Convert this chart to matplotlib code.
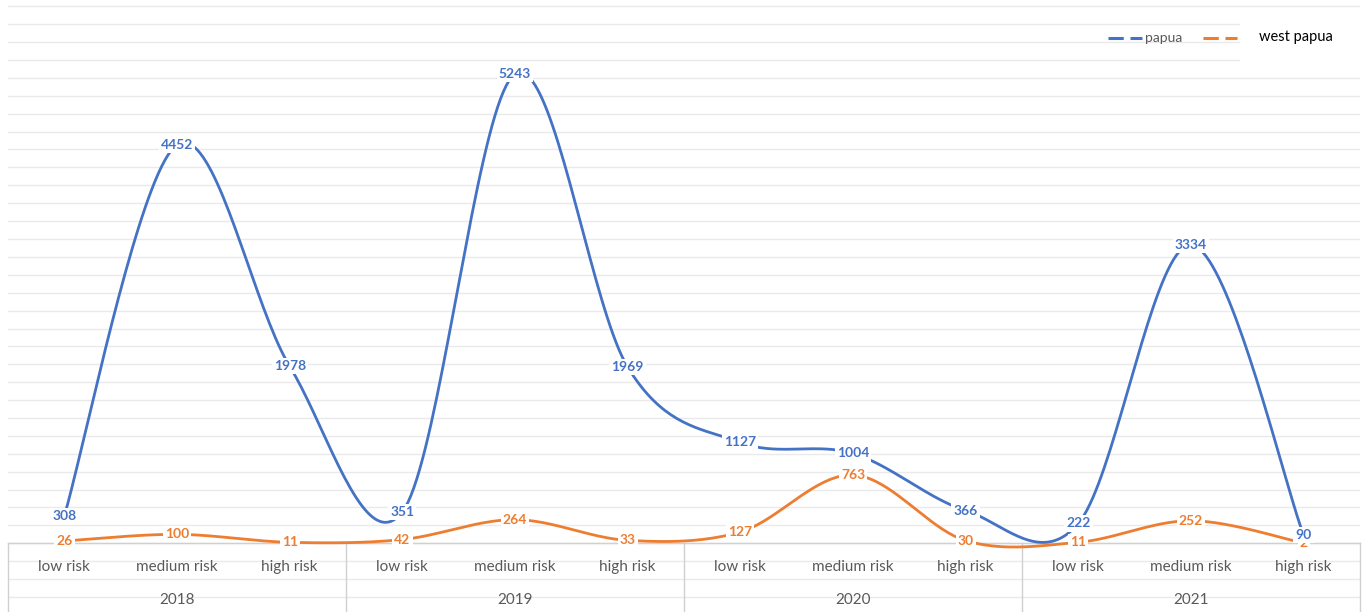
import numpy as np
import matplotlib
matplotlib.use("Agg")
import matplotlib.pyplot as plt
from matplotlib.lines import Line2D

years = ["2018", "2019", "2020", "2021"]
risks = ["low risk", "medium risk", "high risk"]
papua = [308, 4452, 1978, 351, 5243, 1969, 1127, 1004, 366, 222, 3334, 90]
west_papua = [26, 100, 11, 42, 264, 33, 127, 763, 30, 11, 252, 2]

BLUE = "#4472C4"
ORANGE = "#ED7D31"
W, H = 1366, 612

plt.rcParams['font.family'] = ['Lato', 'DejaVu Sans']

fig = plt.figure(figsize=(W / 100, H / 100), dpi=100)
ax = fig.add_axes([8 / W, 0, 1352 / W, 1])
n = len(papua)
ax.set_xlim(-0.5, n - 0.5)
s = 0.0895  # px per unit
ax.set_ylim(-(H - 543.3) / s, 543.3 / s)
for sp in ax.spines.values():
    sp.set_visible(False)
ax.set_xticks([])
ax.set_yticks([])

# gridlines
for g in range(-600, 6001, 200):
    ax.axhline(g, color="#EAEAEA", lw=1.0, zorder=0)

# axis and separators
ax.plot([-0.5, n - 0.5], [0, 0], color="#D0D0D0", lw=1.0, zorder=1, clip_on=False)
for xv in np.arange(-0.5, n, 3):
    ax.plot([xv, xv], [0, ax.get_ylim()[0]], color="#D0D0D0", lw=1.0, zorder=1, clip_on=False)


def smooth(xs, ys, steps=40):
    xs = np.asarray(xs, float)
    ys = np.asarray(ys, float)
    P = np.column_stack([xs, ys])
    out = []
    m = len(P)
    for i in range(m - 1):
        p0 = P[i - 1] if i > 0 else P[i]
        p1 = P[i]
        p2 = P[i + 1]
        p3 = P[i + 2] if i + 2 < m else P[i + 1]
        c1 = p1 + (p2 - p0) / 6
        c2 = p2 - (p3 - p1) / 6
        t = np.linspace(0, 1, steps)[:, None]
        seg = (1 - t) ** 3 * p1 + 3 * (1 - t) ** 2 * t * c1 + 3 * (1 - t) * t ** 2 * c2 + t ** 3 * p2
        out.append(seg if i == 0 else seg[1:])
    out = np.vstack(out)
    return out[:, 0], out[:, 1]


xs = np.arange(n)
for vals, col in [(papua, BLUE), (west_papua, ORANGE)]:
    sx, sy = smooth(xs, vals)
    ax.plot(sx, sy, color=col, lw=2.0, zorder=2, clip_on=False, solid_capstyle="round")

for vals, col, z in [(west_papua, ORANGE, 4), (papua, BLUE, 5)]:
    for x, v in zip(xs, vals):
        ax.text(x, v, str(v), color=col, fontsize=10, fontweight="bold", ha="center", va="center",
                zorder=z, bbox=dict(boxstyle="square,pad=0.15", fc="white", ec="none"))

# category labels
ylab = -(567 - 543.3) / s
yyear = -(600 - 543.3) / s
for i in range(n):
    ax.text(i, ylab, risks[i % 3], ha="center", va="center", fontsize=11, color="#595959")
for j, yr in enumerate(years):
    ax.text(3 * j + 1, yyear, yr, ha="center", va="center", fontsize=11, color="#595959")

# legend
def fx(px):
    return px / W


def fy(py):
    return 1 - py / H


fig.patches.append(plt.Rectangle((fx(1240), fy(68)), fx(126), 56 / H, transform=fig.transFigure,
                                 fc="white", ec="none", zorder=3))
fig.lines.append(Line2D([fx(1108), fx(1142)], [fy(38), fy(38)], transform=fig.transFigure,
                        color=BLUE, lw=2.2, dashes=(5, 2.2), zorder=4))
fig.text(fx(1145), fy(38), "papua", ha="left", va="center", fontsize=10, color="#595959", zorder=4)
fig.lines.append(Line2D([fx(1203), fx(1237)], [fy(38), fy(38)], transform=fig.transFigure,
                        color=ORANGE, lw=2.2, dashes=(5, 2.2), zorder=4))
fig.text(fx(1259), fy(37), "west papua", ha="left", va="center", fontsize=10.5, color="black", zorder=4)

fig.savefig("out.png", dpi=100)
